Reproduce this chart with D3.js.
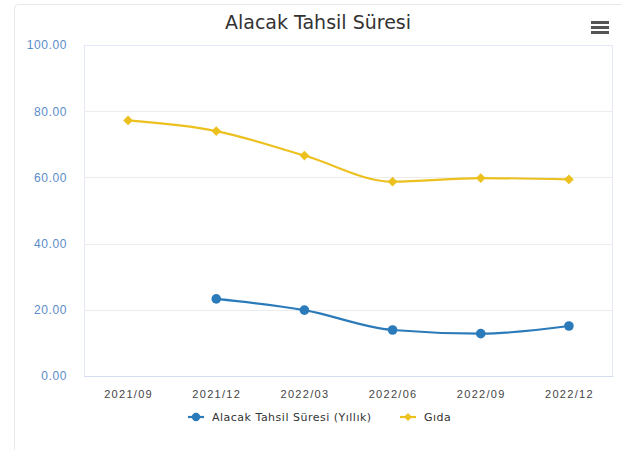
<!DOCTYPE html>
<html>
<head>
<meta charset="utf-8">
<script src="https://cdn.jsdelivr.net/npm/d3@7"></script>
<style>
  html, body { margin: 0; padding: 0; background: #fff; }
  svg { display: block; font-family: "DejaVu Sans", sans-serif; }
</style>
</head>
<body>
<div id="chart"></div>
<script>
const categories = ["2021/09", "2021/12", "2022/03", "2022/06", "2022/09", "2022/12"];
const tahsilValues = [null, 23.3, 19.9, 13.9, 12.8, 15.1];
const gidaValues = [77.2, 74.0, 66.6, 58.7, 59.8, 59.4];
const yTicks = [0, 20, 40, 60, 80, 100];
const seriesNames = ["Alacak Tahsil Süresi (Yıllık)", "Gıda"];

const width = 622;
const height = 450;
const margin = { top: 45, right: 9, bottom: 74, left: 84 };
const inner = { w: width - margin.left - margin.right, h: height - margin.top - margin.bottom };

const blue = "#2b7bba";
const yellow = "#ecc01f";

const svg = d3.select("#chart").append("svg")
  .attr("width", width).attr("height", height);

// Card frame.
svg.append("rect")
  .attr("x", 14.5).attr("y", 4.5).attr("width", 620).attr("height", 460)
  .attr("rx", 4).attr("fill", "#fff").attr("stroke", "#e8e8e8");

// Title.
svg.append("text")
  .attr("x", 318).attr("y", 29)
  .attr("text-anchor", "middle").attr("font-size", "19px").attr("fill", "#333")
  .text("Alacak Tahsil Süresi");

// Menu icon.
for (let i = 0; i < 3; i++) {
  svg.append("rect")
    .attr("x", 591).attr("y", 21 + i * 5).attr("width", 18).attr("height", 3)
    .attr("fill", "#555");
}

const g = svg.append("g").attr("transform", `translate(${margin.left},${margin.top})`);

const x = d3.scalePoint().domain(categories).range([0, inner.w]).padding(0.5);
const y = d3.scaleLinear().domain([0, 100]).range([inner.h, 0]);

// Plot border.
g.append("rect")
  .attr("x", 0.5).attr("y", 0.5).attr("width", inner.w - 1).attr("height", inner.h)
  .attr("fill", "none").attr("stroke", "#e3e8f6");

// Grid lines.
g.selectAll("line.grid").data(yTicks.slice(1, -1)).join("line")
  .attr("class", "grid")
  .attr("x1", 0).attr("x2", inner.w)
  .attr("y1", d => Math.round(y(d)) + 0.5).attr("y2", d => Math.round(y(d)) + 0.5)
  .attr("stroke", "#ececec");

// Y axis labels.
const yAxis = g.append("g").call(d3.axisLeft(y).tickValues(yTicks).tickFormat(d3.format(".2f")).tickSize(0).tickPadding(17));
yAxis.select(".domain").remove();
yAxis.selectAll("text").attr("fill", "#5a8bc9").attr("font-size", "12px").attr("letter-spacing", "0.6px");

// X axis.
const xAxis = g.append("g").attr("transform", `translate(0,${inner.h})`)
  .call(d3.axisBottom(x).tickSize(0).tickPadding(14));
xAxis.select(".domain").attr("stroke", "#d5def0");
xAxis.selectAll("text").attr("fill", "#444").attr("font-size", "11px").attr("letter-spacing", "1.3px");

// Lines.
const line = d3.line()
  .defined(d => d.v != null)
  .x(d => x(d.c)).y(d => y(d.v))
  .curve(d3.curveMonotoneX);

const gidaData = categories.map((c, i) => ({ c, v: gidaValues[i] }));
const tahsilData = categories.map((c, i) => ({ c, v: tahsilValues[i] }));

g.append("path").datum(gidaData).attr("d", line)
  .attr("fill", "none").attr("stroke", yellow).attr("stroke-width", 2.2);
g.append("path").datum(tahsilData).attr("d", line)
  .attr("fill", "none").attr("stroke", blue).attr("stroke-width", 2.2);

const diamond = d3.symbol().type(d3.symbolDiamond2).size(60);

g.selectAll("path.gida-pt").data(gidaData.filter(d => d.v != null)).join("path")
  .attr("class", "gida-pt")
  .attr("transform", d => `translate(${x(d.c)},${y(d.v)})`)
  .attr("d", diamond).attr("fill", yellow);

g.selectAll("circle.tahsil-pt").data(tahsilData.filter(d => d.v != null)).join("circle")
  .attr("class", "tahsil-pt")
  .attr("cx", d => x(d.c)).attr("cy", d => y(d.v)).attr("r", 4.8)
  .attr("fill", blue);

// Legend.
const legend = svg.append("g").attr("transform", "translate(0,417)");
const items = [
  { name: seriesNames[0], color: blue, x: 188, marker: "circle" },
  { name: seriesNames[1], color: yellow, x: 400, marker: "diamond" },
];
for (const it of items) {
  legend.append("line")
    .attr("x1", it.x).attr("x2", it.x + 16).attr("y1", 0).attr("y2", 0)
    .attr("stroke", it.color).attr("stroke-width", 2.2);
  if (it.marker === "circle") {
    legend.append("circle").attr("cx", it.x + 8).attr("cy", 0).attr("r", 4.2).attr("fill", it.color);
  } else {
    legend.append("path").attr("transform", `translate(${it.x + 8},0)`)
      .attr("d", d3.symbol().type(d3.symbolDiamond2).size(40)).attr("fill", it.color);
  }
  legend.append("text")
    .attr("x", it.x + 24).attr("y", 0).attr("dy", "0.35em")
    .attr("font-size", "11px").attr("letter-spacing", "0.5px").attr("fill", "#333")
    .text(it.name);
}
</script>
</body>
</html>
